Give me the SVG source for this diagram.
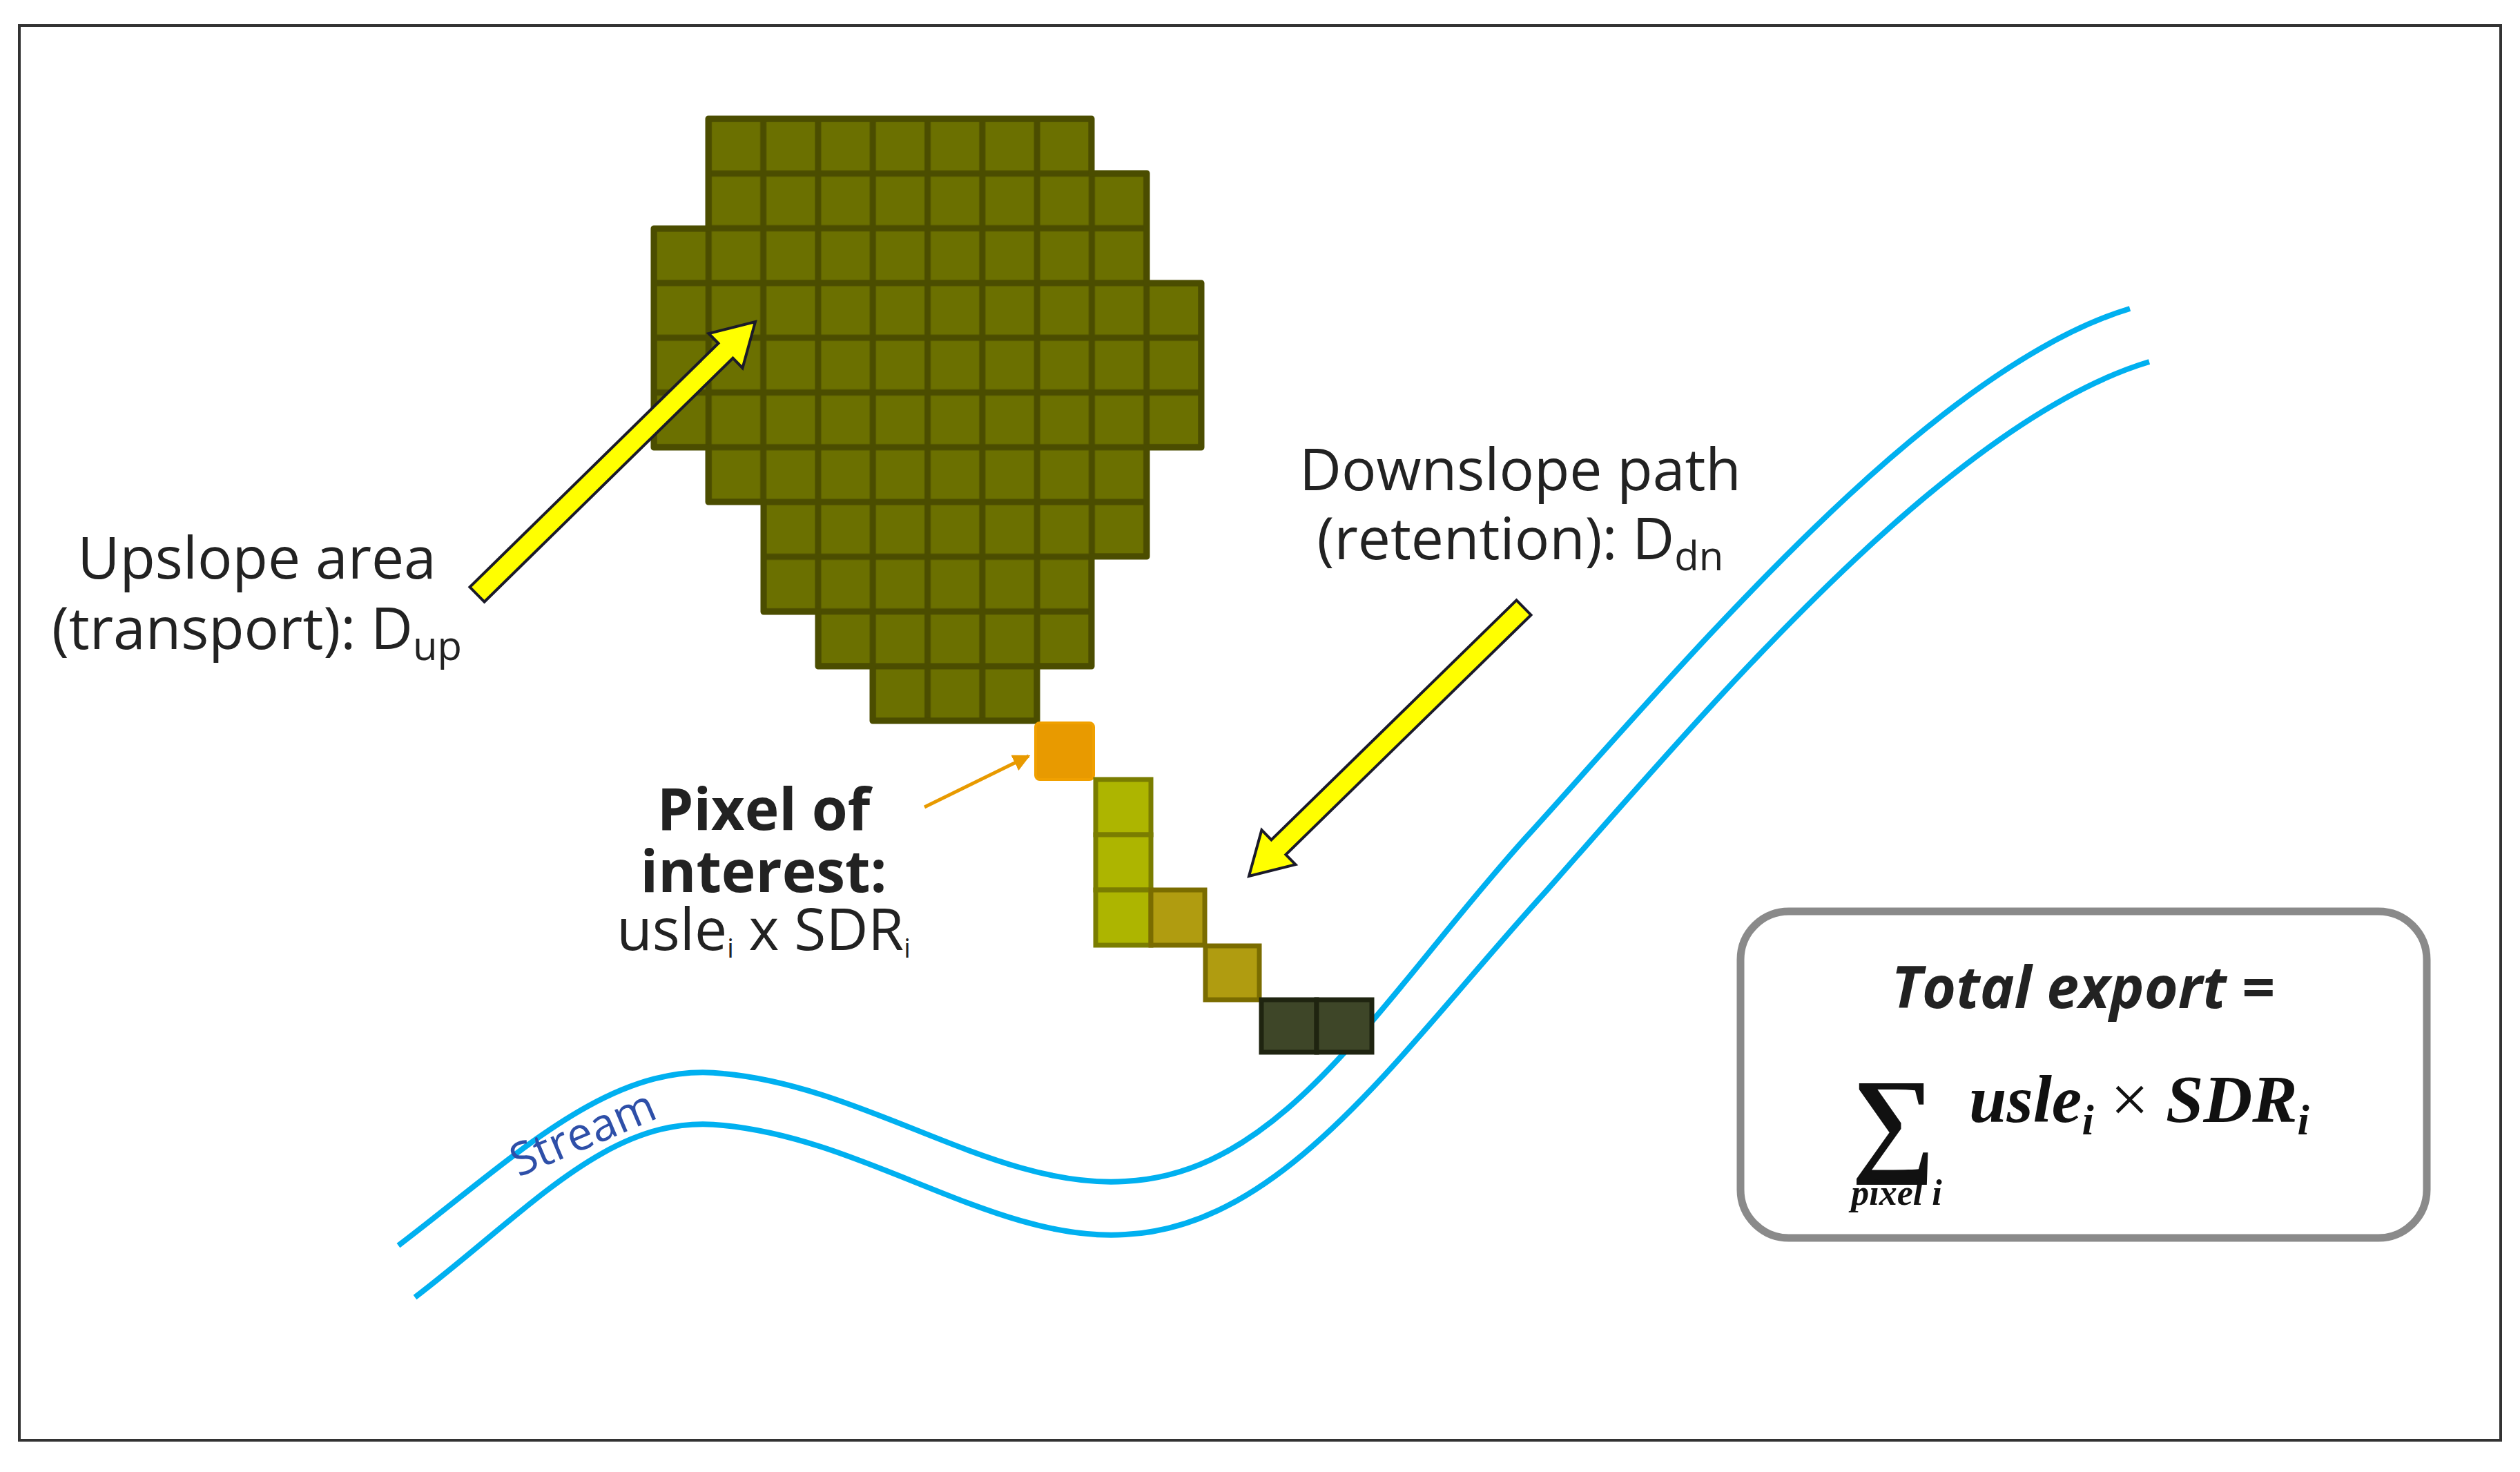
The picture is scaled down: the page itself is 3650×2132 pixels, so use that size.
<svg xmlns="http://www.w3.org/2000/svg" width="3650" height="2132" viewBox="0 0 3650 2132">
<style>
.lbl{font-family:"Open Sans","Liberation Sans",sans-serif;fill:#222;font-size:84px}
.b{font-weight:bold}
.yarrow{fill:#ffff00;stroke:#1a1a2a;stroke-width:4;stroke-linejoin:miter}
.stream{fill:none;stroke:#00b0f0;stroke-width:8}
.math{font-family:"Liberation Serif",serif;font-weight:bold;font-style:italic;fill:#111}
</style>
<defs>
<pattern id="cells" patternUnits="userSpaceOnUse" x="947" y="172" width="79.3" height="79.3">
<rect width="79.3" height="79.3" fill="#6b7000" stroke="#4b4d00" stroke-width="9"/>
</pattern>
<marker id="oa" viewBox="0 0 10 10" refX="9" refY="5" markerWidth="5" markerHeight="5" orient="auto"><path d="M0,0L10,5L0,10z" fill="#e89a00"/></marker>
</defs>
<rect x="0" y="0" width="3650" height="2132" fill="#fff"/>
<rect x="28" y="37" width="3594" height="2049" fill="none" stroke="#333" stroke-width="4"/>
<g id="stream">
<path class="stream" d="M577,1804 C745,1676 885,1536 1048,1555 C1257,1574 1443,1723 1630,1711 C1862,1700 2002,1443 2212,1211 C2445,954 2794,535 3085,447"/>
<path class="stream" d="M601,1879 C770,1750 885,1611 1048,1630 C1257,1650 1443,1800 1630,1788 C1862,1777 2030,1520 2240,1290 C2470,1030 2820,612 3113,524"/>
<text x="853" y="1662" transform="rotate(-23 853 1662)" font-family="Open Sans, Liberation Sans, sans-serif" font-size="66" fill="#2e4fa8" text-anchor="middle">Stream</text>
</g>
<g id="upslope-area">
<polygon points="1026,172 1581,172 1581,251 1661,251 1661,410 1740,410 1740,648 1661,648 1661,806 1581,806 1581,965 1502,965 1502,1044 1264,1044 1264,965 1185,965 1185,886 1106,886 1106,727 1026,727 1026,648 947,648 947,331 1026,331" fill="url(#cells)" stroke="#4b4d00" stroke-width="9" stroke-linejoin="round"/>
</g>
<g id="pixel-of-interest">
<rect x="1500" y="1047" width="84" height="82" rx="6" fill="#e89a00" stroke="#f0a000" stroke-width="4"/>
</g>
<g id="downslope-path">
<rect x="1587" y="1129" width="80" height="80" fill="#adb500" stroke="#7a7d00" stroke-width="7"/>
<rect x="1587" y="1209" width="80" height="80" fill="#adb500" stroke="#7a7d00" stroke-width="7"/>
<rect x="1587" y="1289" width="80" height="80" fill="#adb500" stroke="#7a7d00" stroke-width="7"/>
<rect x="1667" y="1289" width="78" height="80" fill="#b09c10" stroke="#7a6c00" stroke-width="7"/>
<rect x="1746" y="1370" width="78" height="78" fill="#b09c10" stroke="#7a6c00" stroke-width="7"/>
<rect x="1827" y="1448" width="80" height="76" fill="#3e4628" stroke="#1f2410" stroke-width="7"/>
<rect x="1907" y="1448" width="80" height="76" fill="#3e4628" stroke="#1f2410" stroke-width="7"/>
</g>
<g id="connectors">
<polygon class="yarrow" points="701.5,871.7 1061.5,518.7 1075.5,533 1094,466 1026.5,483 1040.5,497.3 680.5,850.3"/>
<polygon class="yarrow" points="2217.5,890.7 1862.4,1237.8 1876.4,1252.1 1809,1269 1827.4,1202.1 1841.4,1216.4 2196.5,869.3"/>
<line x1="1339" y1="1169" x2="1490" y2="1095" stroke="#e89a00" stroke-width="5" marker-end="url(#oa)"/>
</g>
<g id="label-upslope">
<text class="lbl" x="372" y="838" text-anchor="middle">Upslope area</text>
<text class="lbl" x="372" y="940" text-anchor="middle">(transport): D<tspan font-size="58" dy="16">up</tspan></text>
</g>
<g id="label-downslope">
<text class="lbl" x="2202" y="710" text-anchor="middle">Downslope path</text>
<text class="lbl" x="2202" y="810" text-anchor="middle">(retention): D<tspan font-size="58" dy="16">dn</tspan></text>
</g>
<g id="label-pixel">
<text class="lbl b" x="1106" y="1202" text-anchor="middle" font-size="62">Pixel of</text>
<text class="lbl b" x="1106" y="1292" text-anchor="middle" font-size="62">interest:</text>
<text class="lbl" x="1106" y="1376" text-anchor="middle" font-size="59">usle<tspan font-size="38" dy="11">i</tspan><tspan dy="-11"> x SDR</tspan><tspan font-size="38" dy="11">i</tspan></text>
</g>
<g id="total-export">
<rect x="2521" y="1320" width="994" height="473" rx="70" fill="#fff" stroke="#8a8a8a" stroke-width="11"/>
<text class="lbl b" x="3017" y="1460" text-anchor="middle" font-size="108" font-style="italic" fill="#111">Total export =</text>
<text class="math" x="2742" y="1680" font-size="170" font-weight="normal" font-style="normal" text-anchor="middle">∑</text>
<text class="math" x="2747" y="1745" font-size="52" text-anchor="middle">pixel i</text>
<text class="math" x="2852" y="1625" font-size="98">usle<tspan font-size="62" dy="18">i</tspan><tspan dy="-18" font-style="normal" font-weight="normal"> × </tspan>SDR<tspan font-size="62" dy="18">i</tspan></text>
</g>
</svg>
